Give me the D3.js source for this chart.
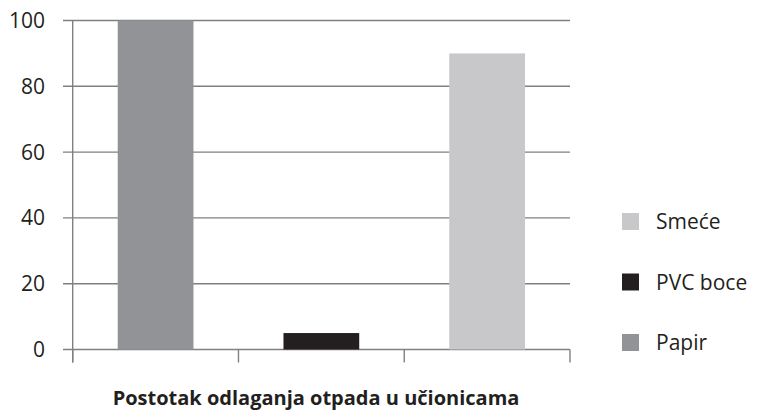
<!DOCTYPE html>
<html>
<head>
<meta charset="utf-8">
<script src="https://cdn.jsdelivr.net/npm/d3@7"></script>
<style>
  body { margin: 0; background: #fff; }
  text { font-family: "Open Sans", "Noto Sans", sans-serif; fill: #231f20; }
  .ylab { font-size: 21px; }
  .leg { font-size: 21px; }
  .title { font-size: 20px; font-weight: bold; }
</style>
</head>
<body>
<div id="chart"></div>
<script>
var categories = ["Papir", "PVC boce", "Smeće"]
var values = [100, 5, 90]
var colors = ["#929396", "#231f20", "#c8c8ca"]
var yTicks = [0, 20, 40, 60, 80, 100]
var title = "Postotak odlaganja otpada u učionicama"

var width = 757, height = 411

var svg = d3.select("#chart").append("svg")
    .attr("width", width).attr("height", height)

var x = d3.scaleBand().domain(categories)
    .range([72.7, 570]).paddingInner(0.543).paddingOuter(0.2715)
var y = d3.scaleLinear().domain([0, 100]).range([349.5, 20.5])

// gridlines
svg.selectAll(".grid").data(yTicks).enter().append("line")
    .attr("x1", 63).attr("x2", 570)
    .attr("y1", d => y(d)).attr("y2", d => y(d))
    .attr("stroke", "#808080").attr("stroke-width", 1.4)

// y labels
svg.selectAll(".ylab").data(yTicks).enter().append("text")
    .attr("class", "ylab")
    .attr("x", 45).attr("y", d => y(d)).attr("dy", "0.36em")
    .attr("text-anchor", "end")
    .text(d => d)

// bars
svg.selectAll(".bar").data(categories).enter().append("rect")
    .attr("x", d => x(d)).attr("width", x.bandwidth())
    .attr("y", (d, i) => y(values[i]))
    .attr("height", (d, i) => y(0) - y(values[i]))
    .attr("fill", (d, i) => colors[i])

// axis lines and ticks
svg.append("line").attr("x1", 72.7).attr("x2", 72.7)
    .attr("y1", y(100)).attr("y2", 362.5)
    .attr("stroke", "#808080").attr("stroke-width", 1.4)
var tx = d3.scaleLinear().domain([0, categories.length]).range(x.range())
svg.selectAll(".xtick").data(d3.range(categories.length + 1)).enter().append("line")
    .attr("x1", d => tx(d)).attr("x2", d => tx(d))
    .attr("y1", y(0)).attr("y2", 362.5)
    .attr("stroke", "#808080").attr("stroke-width", 1.4)

// legend (reverse order)
var legend = svg.selectAll(".legitem").data(categories.slice().reverse()).enter().append("g")
    .attr("transform", (d, i) => "translate(622," + (213 + i * 60.5) + ")")
legend.append("rect").attr("width", 17).attr("height", 17)
    .attr("fill", d => colors[categories.indexOf(d)])
legend.append("text").attr("class", "leg")
    .attr("x", 34).attr("y", 8.5).attr("dy", "0.36em")
    .text(d => d)

// title
svg.append("text").attr("class", "title")
    .attr("x", 316).attr("y", 405)
    .attr("text-anchor", "middle")
    .text(title)
</script>
</body>
</html>
